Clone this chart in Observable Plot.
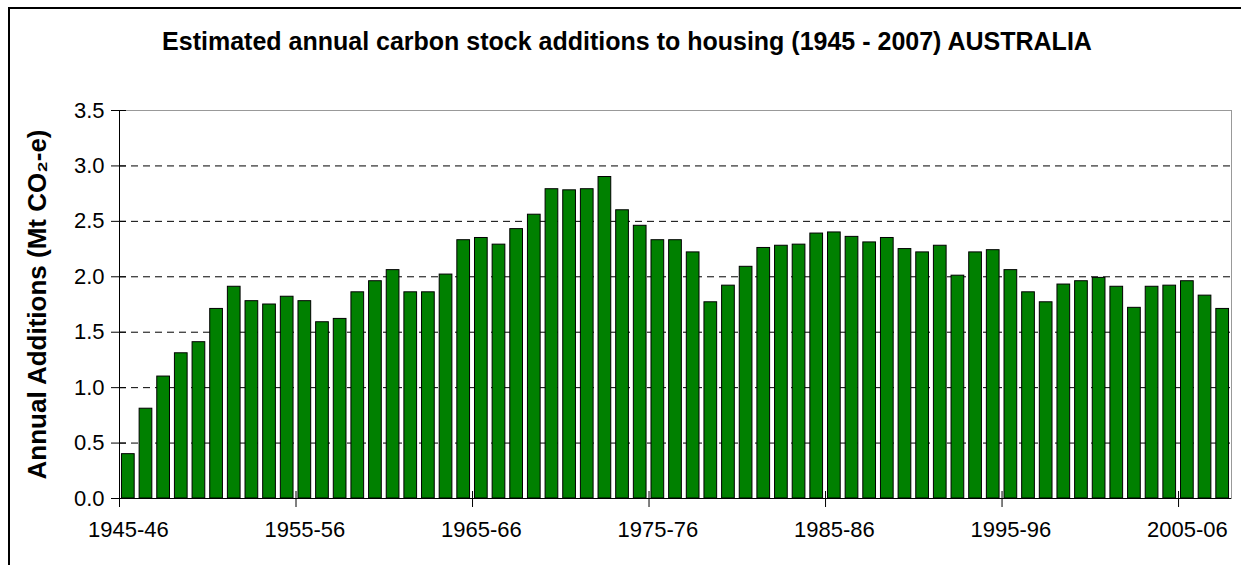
<!DOCTYPE html>
<html>
<head>
<meta charset="utf-8">
<script src="https://cdn.jsdelivr.net/npm/d3@7"></script>
<script src="https://cdn.jsdelivr.net/npm/@observablehq/plot@0.6"></script>
<style>
  html, body { margin: 0; padding: 0; background: #fff; }
  body { font-family: "Liberation Sans", Arial, sans-serif; }
  #wrap { position: relative; width: 1241px; height: 565px; overflow: hidden; background: #fff; }
  #border { position: absolute; left: 8px; top: 7px; width: 1300px; height: 700px; border: 2px solid #000; }
  #title { position: absolute; left: 0; top: 29px; width: 1254px; text-align: center;
           font-size: 25px; line-height: 25px; font-weight: bold; color: #000; white-space: nowrap; }
  #chart { position: absolute; left: 0; top: 0; }
</style>
</head>
<body>
<div id="wrap">
  <div id="border"></div>
  <div id="chart"></div>
  <div id="title">Estimated annual carbon stock additions to housing (1945 - 2007) AUSTRALIA</div>
</div>
<script>
const years = [
  "1945-46","1946-47","1947-48","1948-49","1949-50","1950-51","1951-52","1952-53","1953-54","1954-55",
  "1955-56","1956-57","1957-58","1958-59","1959-60","1960-61","1961-62","1962-63","1963-64","1964-65",
  "1965-66","1966-67","1967-68","1968-69","1969-70","1970-71","1971-72","1972-73","1973-74","1974-75",
  "1975-76","1976-77","1977-78","1978-79","1979-80","1980-81","1981-82","1982-83","1983-84","1984-85",
  "1985-86","1986-87","1987-88","1988-89","1989-90","1990-91","1991-92","1992-93","1993-94","1994-95",
  "1995-96","1996-97","1997-98","1998-99","1999-00","2000-01","2001-02","2002-03","2003-04","2004-05",
  "2005-06","2006-07","2007-08"
];
const additions = [
  0.40, 0.81, 1.10, 1.31, 1.41, 1.71, 1.91, 1.78, 1.75, 1.82,
  1.78, 1.59, 1.62, 1.86, 1.96, 2.06, 1.86, 1.86, 2.02, 2.33,
  2.35, 2.29, 2.43, 2.56, 2.79, 2.78, 2.79, 2.90, 2.60, 2.46,
  2.33, 2.33, 2.22, 1.77, 1.92, 2.09, 2.26, 2.28, 2.29, 2.39,
  2.40, 2.36, 2.31, 2.35, 2.25, 2.22, 2.28, 2.01, 2.22, 2.24,
  2.06, 1.86, 1.77, 1.93, 1.96, 1.99, 1.91, 1.72, 1.91, 1.92,
  1.96, 1.83, 1.71
];
const xTickLabels = ["1945-46","1955-56","1965-66","1975-76","1985-86","1995-96","2005-06"];
const yTicks = [0, 0.5, 1.0, 1.5, 2.0, 2.5, 3.0, 3.5];
const gridValues = [0.5, 1.0, 1.5, 2.0, 2.5, 3.0];
const yLabel = "Annual Additions (Mt CO\u2082-e)";

const data = years.map((year, i) => ({year, value: additions[i]}));

const W = 1241, H = 565, mL = 119, mR = 10, mT = 110, mB = 67;
const step = (W - mL - mR) / years.length;

const chart = Plot.plot({
  width: W,
  height: H,
  marginLeft: mL,
  marginRight: mR,
  marginTop: mT,
  marginBottom: mB,
  style: {fontFamily: "'Liberation Sans', Arial, sans-serif", color: "#000", background: "transparent", overflow: "visible"},
  x: {type: "band", domain: years, paddingInner: 0.28, paddingOuter: 0.14, label: null},
  y: {domain: [0, 3.5], label: null},
  marks: [
    Plot.ruleY(gridValues, {stroke: "#000", strokeWidth: 1, strokeDasharray: "7,5"}),
    Plot.barY(data, {x: "year", y: "value", fill: "#008000", stroke: "#000", strokeWidth: 1}),
    Plot.frame({anchor: "top", stroke: "#999"}),
    Plot.frame({anchor: "right", stroke: "#999"}),
    Plot.frame({anchor: "left", stroke: "#000"}),
    Plot.ruleY([0], {stroke: "#000"}),
    Plot.ruleY(yTicks, {stroke: "#000", insetLeft: -8, insetRight: (W - mL - mR) - 7}),
    Plot.ruleX(xTickLabels, {x: d => d, y1: 0, y2: 0, dx: -step / 2, insetTop: -7, insetBottom: -9, stroke: "#000"}),
    Plot.axisY(yTicks, {tickSize: 0, tickPadding: 15, tickFormat: d3.format(".1f"), fontSize: 22, label: null}),
    Plot.axisX(xTickLabels, {tickSize: 0, tickPadding: 23, fontSize: 22, label: null}),
    Plot.text([yLabel], {frameAnchor: "left", textAnchor: "middle", rotate: -90, dx: -82, fontSize: 26, fontWeight: "bold", fill: "#000"})
  ]
});
document.getElementById("chart").appendChild(chart);
</script>
</body>
</html>
